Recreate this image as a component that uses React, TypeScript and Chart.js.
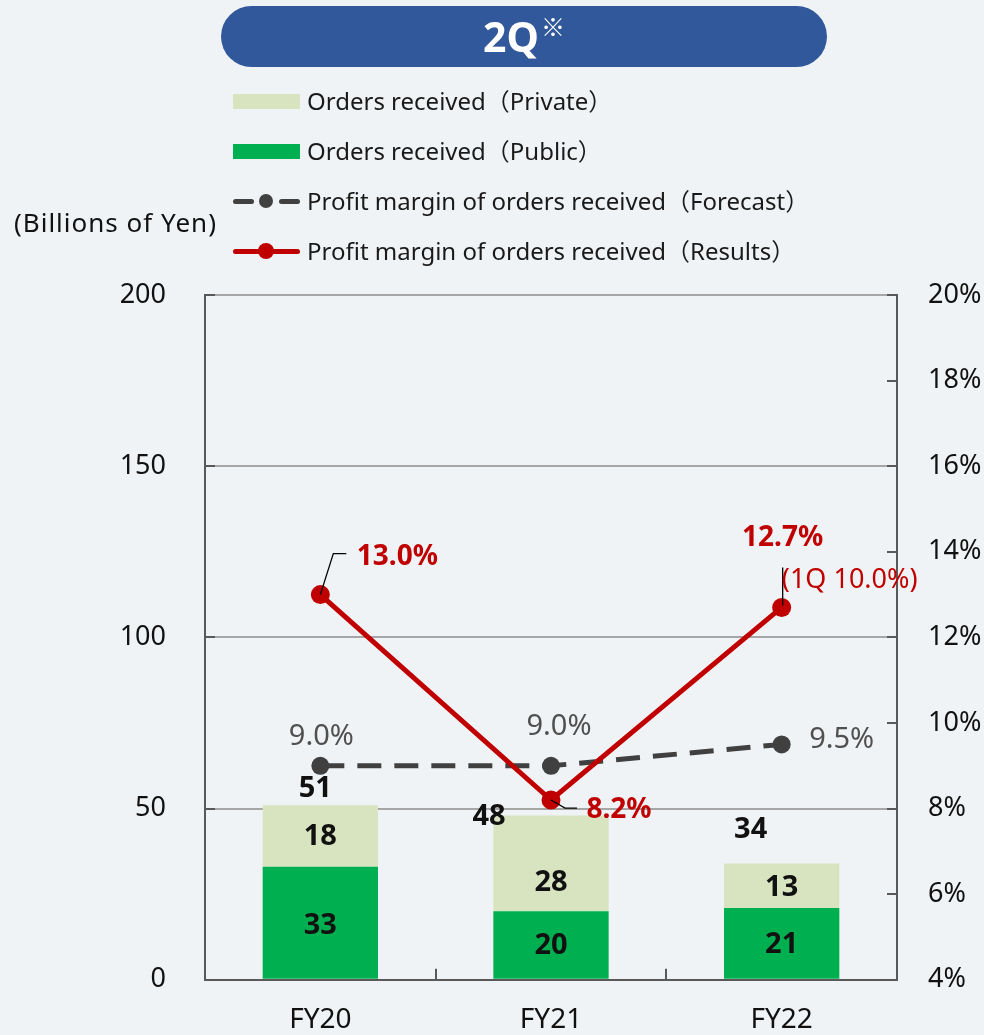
import React, { useEffect, useRef } from 'react';
import { Chart, registerables } from 'chart.js';

Chart.register(...registerables);

// ---------- data ----------
const categories = ['FY20', 'FY21', 'FY22'];
const publicOrders = [33, 20, 21];
const privateOrders = [18, 28, 13];
const totalOrders = [51, 48, 34];
const marginForecast = [9.0, 9.0, 9.5];
const marginResults = [13.0, 8.2, 12.7];
const resultNotes = ['', '', '(1Q 10.0%)'];
const leftAxisRange = { min: 0, max: 200, step: 50 };
const rightAxisRange = { min: 4, max: 20, step: 2 };
const seriesNames = [
  'Orders received（Private）',
  'Orders received（Public）',
  'Profit margin of orders received（Forecast）',
  'Profit margin of orders received（Results）',
];
const titleText = '2Q';
const titleMark = '※';
const unitText = '(Billions of Yen)';

// ---------- style ----------
const FONT = '"Noto Sans", "Noto Sans CJK JP", sans-serif';
const BG = '#f0f3f5';
const RED = '#c00000';
const GREY_LINE = '#404040';
const GREY_TEXT = '#505050';
const PRIVATE_C = '#d8e4bf';
const PUBLIC_C = '#00b050';
const AXIS_C = '#595959';
const GRID_C = '#a6a6a6';
const TEXT_C = '#111111';

// label offsets (pixels) relative to the drawn element
const segmentOffsets = [[[0, 3], [0, 1], [0, 1]], [[0, 1], [0, 19], [0, 2]]];
const totalOffsets = [[-5, -16], [-62, 1], [-31, -34]];
const forecastOffsets = [[1, -29], [8, -39], [60, -5]];
const resultOffsets = [[77, -38], [68, 10], [1, -69]];
const noteOffsets = [[0, 0], [0, 0], [68, -27]];
// leader polylines relative to point
const resultLeaders = [
  [[0, 0], [13, -41], [26, -41]],
  [[0, 0], [14, 8], [26, 8]],
  [[1, -2], [1, -40]],
];

const decorPlugin = {
  id: 'decor',
  beforeDatasetsDraw(chart: any) {
    const ctx = chart.ctx;
    const { left, right, bottom } = chart.chartArea;
    const y = chart.scales.y;
    const y1 = chart.scales.y1;
    const x = chart.scales.x;
    ctx.save();
    ctx.strokeStyle = AXIS_C;
    ctx.lineWidth = 2;
    ctx.beginPath();
    y.ticks.forEach((t: any) => {
      const py = Math.round(y.getPixelForValue(t.value));
      ctx.moveTo(left, py);
      ctx.lineTo(left + 10, py);
    });
    y1.ticks.forEach((t: any) => {
      const py = Math.round(y1.getPixelForValue(t.value));
      ctx.moveTo(right - 10, py);
      ctx.lineTo(right, py);
    });
    const n = categories.length;
    for (let i = 1; i < n; i++) {
      const px = Math.round((x.getPixelForValue(i - 1) + x.getPixelForValue(i)) / 2);
      ctx.moveTo(px, bottom);
      ctx.lineTo(px, bottom - 11);
    }
    ctx.stroke();
    ctx.restore();
  },
  afterDatasetsDraw(chart: any) {
    const ctx = chart.ctx;
    ctx.save();
    ctx.textAlign = 'center';
    ctx.textBaseline = 'middle';
    // bar segment labels
    ctx.font = `bold 29px ${FONT}`;
    ctx.fillStyle = TEXT_C;
    [0, 1].forEach((di) => {
      const meta = chart.getDatasetMeta(di);
      const data = chart.data.datasets[di].data;
      meta.data.forEach((el: any, i: number) => {
        const [dx, dy] = segmentOffsets[di][i];
        ctx.fillText(String(data[i]), el.x + dx, (el.y + el.base) / 2 + dy);
      });
    });
    // totals
    const topMeta = chart.getDatasetMeta(1);
    topMeta.data.forEach((el: any, i: number) => {
      const [dx, dy] = totalOffsets[i];
      ctx.fillText(String(totalOrders[i]), el.x + dx, el.y + dy);
    });
    // forecast labels
    ctx.font = `29px ${FONT}`;
    ctx.fillStyle = GREY_TEXT;
    const fMeta = chart.getDatasetMeta(2);
    fMeta.data.forEach((el: any, i: number) => {
      const [dx, dy] = forecastOffsets[i];
      ctx.fillText(marginForecast[i].toFixed(1) + '%', el.x + dx, el.y + dy);
    });
    // result leaders
    const rMeta = chart.getDatasetMeta(3);
    ctx.strokeStyle = '#000000';
    ctx.lineWidth = 1.3;
    rMeta.data.forEach((el: any, i: number) => {
      const pts = resultLeaders[i];
      ctx.beginPath();
      pts.forEach(([dx, dy], k) => {
        if (k === 0) ctx.moveTo(el.x + dx, el.y + dy);
        else ctx.lineTo(el.x + dx, el.y + dy);
      });
      ctx.stroke();
    });
    // result labels
    ctx.fillStyle = RED;
    rMeta.data.forEach((el: any, i: number) => {
      const [dx, dy] = resultOffsets[i];
      ctx.font = `bold 28px ${FONT}`;
      ctx.fillText(marginResults[i].toFixed(1) + '%', el.x + dx, el.y + dy);
      if (resultNotes[i]) {
        const [nx, ny] = noteOffsets[i];
        ctx.font = `27px ${FONT}`;
        ctx.fillText(resultNotes[i], el.x + nx, el.y + ny);
      }
    });
    ctx.restore();
  },
};

function LegendRow({ top, kind, label }: { top: number; kind: string; label: string }) {
  const symbol: React.ReactNode[] = [];
  if (kind === 'private' || kind === 'public') {
    symbol.push(
      <div key="b" style={{ position: 'absolute', left: 233, top: top - 7, width: 67, height: 15, background: kind === 'private' ? PRIVATE_C : PUBLIC_C }} />
    );
  } else if (kind === 'forecast') {
    symbol.push(
      <div key="d1" style={{ position: 'absolute', left: 233, top: top - 2.5, width: 21, height: 5, borderRadius: 3, background: GREY_LINE }} />,
      <div key="d2" style={{ position: 'absolute', left: 279, top: top - 2.5, width: 21, height: 5, borderRadius: 3, background: GREY_LINE }} />,
      <div key="c" style={{ position: 'absolute', left: 259, top: top - 7, width: 14, height: 14, borderRadius: 7, background: GREY_LINE }} />
    );
  } else {
    symbol.push(
      <div key="l" style={{ position: 'absolute', left: 233, top: top - 2.5, width: 67, height: 5, borderRadius: 3, background: RED }} />,
      <div key="c" style={{ position: 'absolute', left: 258, top: top - 8, width: 16, height: 16, borderRadius: 8, background: RED }} />
    );
  }
  return (
    <>
      {symbol}
      <div style={{ position: 'absolute', left: 307, top: top - 17, height: 34, lineHeight: '34px', fontSize: 24, fontFamily: FONT, color: '#1a1a1a', whiteSpace: 'nowrap' }}>{label}</div>
    </>
  );
}

export default function App() {
  const canvasRef = useRef<HTMLCanvasElement | null>(null);

  useEffect(() => {
    if (!canvasRef.current) return;
    const chart = new Chart(canvasRef.current, {
      type: 'bar',
      data: {
        labels: categories,
        datasets: [
          {
            type: 'bar',
            label: seriesNames[1],
            data: publicOrders,
            backgroundColor: PUBLIC_C,
            borderWidth: 0,
            yAxisID: 'y',
            stack: 'orders',
            order: 3,
            categoryPercentage: 1,
            barPercentage: 0.5,
          } as any,
          {
            type: 'bar',
            label: seriesNames[0],
            data: privateOrders,
            backgroundColor: PRIVATE_C,
            borderWidth: 0,
            yAxisID: 'y',
            stack: 'orders',
            order: 3,
            categoryPercentage: 1,
            barPercentage: 0.5,
          } as any,
          {
            type: 'line',
            label: seriesNames[2],
            data: marginForecast,
            borderColor: GREY_LINE,
            backgroundColor: GREY_LINE,
            borderWidth: 5,
            borderDash: [24, 13],
            pointRadius: 9,
            pointBorderWidth: 0,
            pointBackgroundColor: GREY_LINE,
            yAxisID: 'y1',
            order: 2,
            tension: 0,
          } as any,
          {
            type: 'line',
            label: seriesNames[3],
            data: marginResults,
            borderColor: RED,
            backgroundColor: RED,
            borderWidth: 5,
            pointRadius: 9.5,
            pointBorderWidth: 0,
            pointBackgroundColor: RED,
            yAxisID: 'y1',
            order: 1,
            tension: 0,
          } as any,
        ],
      },
      options: {
        responsive: false,
        animation: false,
        layout: { padding: { top: 295, left: 0, right: 0, bottom: 0 } },
        plugins: {
          legend: { display: false },
          tooltip: { enabled: false },
        },
        scales: {
          x: {
            stacked: true,
            grid: { display: false, drawTicks: false },
            border: { display: true, color: AXIS_C, width: 2 },
            ticks: { font: { family: FONT, size: 28 }, color: TEXT_C, padding: 23 },
            afterFit: (s: any) => { s.height = 52; },
          },
          y: {
            position: 'left',
            stacked: true,
            min: leftAxisRange.min,
            max: leftAxisRange.max,
            grid: {
              drawTicks: false,
              lineWidth: 2,
              color: (c: any) => (c.tick && c.tick.value === 0 ? 'rgba(0,0,0,0)' : GRID_C),
            },
            border: { display: true, color: AXIS_C, width: 2 },
            ticks: {
              stepSize: leftAxisRange.step,
              font: { family: FONT, size: 27 },
              color: TEXT_C,
              padding: 39,
              callback: (v: any) => String(v),
            },
            afterFit: (s: any) => { s.width = 205; },
          },
          y1: {
            position: 'right',
            min: rightAxisRange.min,
            max: rightAxisRange.max,
            grid: { drawOnChartArea: false, drawTicks: false },
            border: { display: true, color: AXIS_C, width: 2 },
            ticks: {
              stepSize: rightAxisRange.step,
              font: { family: FONT, size: 27 },
              color: TEXT_C,
              padding: 31,
              callback: (v: any) => `${v}%`,
            },
            afterFit: (s: any) => { s.width = 87; },
          },
        },
      } as any,
      plugins: [decorPlugin],
    });
    return () => chart.destroy();
  }, []);

  const legendKinds = ['private', 'public', 'forecast', 'results'];
  const legendTops = [101, 151, 201, 251];

  return (
    <div style={{ position: 'fixed', left: 0, top: 0, width: 984, height: 1035, background: BG, overflow: 'hidden' }}>
      <canvas ref={canvasRef} width={984} height={1035} style={{ position: 'absolute', left: 0, top: 0, width: 984, height: 1035 }} />
      <div
        style={{
          position: 'absolute', left: 221, top: 6, width: 606, height: 61, borderRadius: 31,
          background: '#30589a', color: '#ffffff', display: 'flex', alignItems: 'center', justifyContent: 'center',
          fontFamily: FONT,
        }}
      >
        <span style={{ fontSize: 41, fontWeight: 700, lineHeight: '61px' }}>{titleText}</span>
        <span style={{ fontSize: 24, position: 'relative', top: -11, marginLeft: 2, fontFamily: '"Noto Sans CJK JP", sans-serif' }}>{titleMark}</span>
      </div>
      {legendKinds.map((k, i) => (
        <LegendRow key={k} top={legendTops[i]} kind={k} label={seriesNames[i]} />
      ))}
      <div style={{ position: 'absolute', left: 14, top: 203, fontSize: 26, letterSpacing: 1, lineHeight: '38px', fontFamily: FONT, color: TEXT_C, whiteSpace: 'nowrap' }}>
        {unitText}
      </div>
    </div>
  );
}
